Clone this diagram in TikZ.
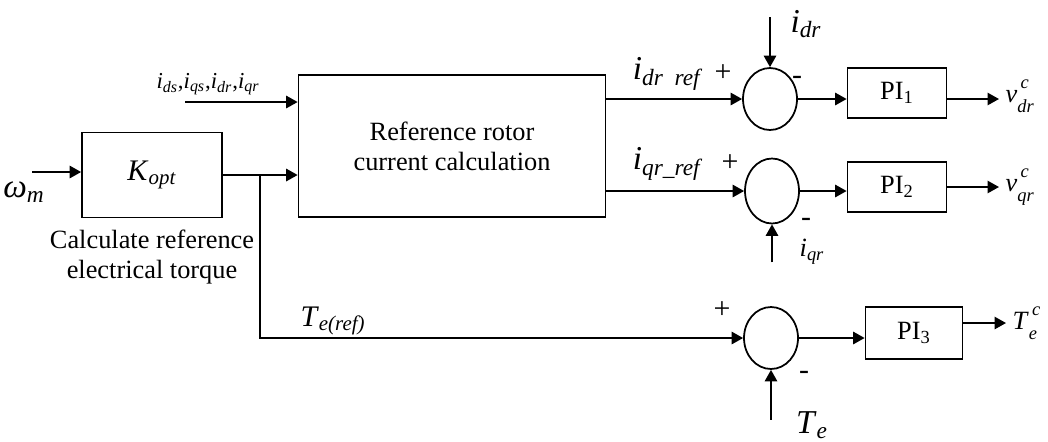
\documentclass[tikz,border=0pt]{standalone}
\usepackage{fontspec}
\setmainfont{Liberation Serif}
\usepackage{tikz}
\usetikzlibrary{positioning,shapes,calc,arrows.meta}

\newcommand{\sig}[2]{\textit{#1}\textsubscript{\textit{#2}}}
% control output: c stacked over the subscript
\newcommand{\scr}[1]{{\fontsize{10.5}{10.5}\selectfont\textit{#1}}}
\newcommand{\sigc}[2]{\textit{#1}\rlap{\raisebox{1.2ex}{\scr{\,c}}}\raisebox{-0.8ex}{\scr{#2}}}

\begin{document}
\begin{tikzpicture}[
  x = 0.02cm,
  y = -0.02cm,
  line width = 1pt,
  every node/.style = {
    font = \fontsize{15}{17}\selectfont,
  },
  block/.style = {
    draw,
    rectangle,
    fill = white,
  },
  piblock/.style = {
    block,
    minimum width = 1.98cm,
    minimum height = 1.0cm,
  },
  summer/.style = {
    draw,
    ellipse,
    inner sep = 0pt,
    minimum width = 1.08cm,
    minimum height = 1.24cm,
  },
  sign/.style = {
    inner sep = 0pt,
    font = \fontsize{17}{17}\selectfont,
  },
  big/.style = {
    font = \fontsize{19}{19}\selectfont,
  },
  >={Triangle[length=6.5pt,width=7pt]},
]

  \useasboundingbox (0,0) rectangle (1048,441);

  % torque reference and rotor current blocks
  \node[block,minimum width=2.8cm,minimum height=1.7cm] (kopt) at (152,175) {\raisebox{5pt}{\fontsize{17}{17}\selectfont\sig{K}{opt}}};
  \node[block,minimum width=6.14cm,minimum height=2.84cm,align=center] (calc) at (452,146) {Reference rotor\\current calculation};
  \node[align=center] (kopttxt) [below=0.1cm of kopt] {Calculate reference\\electrical torque};

  % summing junctions
  \node[summer] (s1) at (770,99) {};
  \node[summer,minimum height=1.3cm] (s2) at (772,191) {};
  \node[summer] (s3) at (771,338) {};

  % PI controllers
  \node[piblock] (pi1) at (897,93) {PI\textsubscript{1}};
  \node[piblock] (pi2) at (897,187) {PI\textsubscript{2}};
  \node[piblock,minimum width=1.94cm,minimum height=1.04cm] (pi3) at (914,333) {PI\textsubscript{3}};

  % inputs
  \coordinate (win) at (32,172);
  \coordinate (iin) at (185,102);
  \coordinate (jn) at ([xshift=0.74cm]kopt.east);
  \node[big] (omega) at (24,192) {\sig{ω}{m}};
  \node[font=\fontsize{13}{13}\selectfont] (ilist) at (208,84) {\sig{i}{ds},\sig{i}{qs},\sig{i}{dr},\sig{i}{qr}};

  \draw[->] (win) -- (win -| kopt.west);
  \draw[->] (kopt.east) -- (kopt.east -| calc.west);
  \draw[->] (iin) -- (iin -| calc.west);
  \draw[->] (jn) |- (s3.west);
  \node[font=\fontsize{17}{17}\selectfont] (teref) at (333,321) {\sig{T}{e(ref)}};

  % d-axis loop
  \node[big] (idrref) at (668,74) {\sig{i}{dr\ \ ref}};
  \node[sign] (p1) at (723,73) {+};
  \node[big] (idr) at (806,24) {\sig{i}{dr}};
  \node[sign] (m1) at (797,80) {-};
  \coordinate (idrin) at ([yshift=1cm]s1.north);
  \draw[->] (calc.east |- s1.west) -- (s1.west);
  \draw[->] (idrin) -- (s1.north);
  \draw[->] (s1.east) -- (s1.east -| pi1.west);
  \node (vdr) [anchor=west] at (999,96) {\sigc{v}{dr}};
  \draw[->] (pi1.east |- s1.east) -- (vdr.west |- s1.east);

  % q-axis loop
  \node[big] (iqrref) at (668,164) {\sig{i}{qr\_ref}};
  \node[sign] (p2) at (730,163) {+};
  \node (iqr) at (812,252) {\sig{i}{qr}};
  \node[sign] (m2) at (806,222) {-};
  \coordinate (iqrin) at ([yshift=-0.76cm]s2.south);
  \draw[->] (calc.east |- s2.west) -- (s2.west);
  \draw[->] (iqrin) -- (s2.south);
  \draw[->] (s2.east) -- (s2.east -| pi2.west);
  \node (vqr) [anchor=west] at (999,187) {\sigc{v}{qr}};
  \draw[->] (pi2.east |- vqr.west) -- (vqr.west);

  % torque loop
  \node[sign] (p3) at (722,310) {+};
  \node[sign] (m3) at (804,375) {-};
  \node[big] (te) at (812,425) {\sig{T}{e}};
  \coordinate (tein) at ([yshift=-1.0cm]s3.south);
  \draw[->] (tein) -- (s3.south);
  \draw[->] (s3.east) -- (s3.east -| pi3.west);
  \node (tec) [anchor=west] at (1006,323) {\sigc{T}{e}};
  \draw[->] (pi3.east |- tec.west) -- (tec.west);

\end{tikzpicture}
\end{document}
